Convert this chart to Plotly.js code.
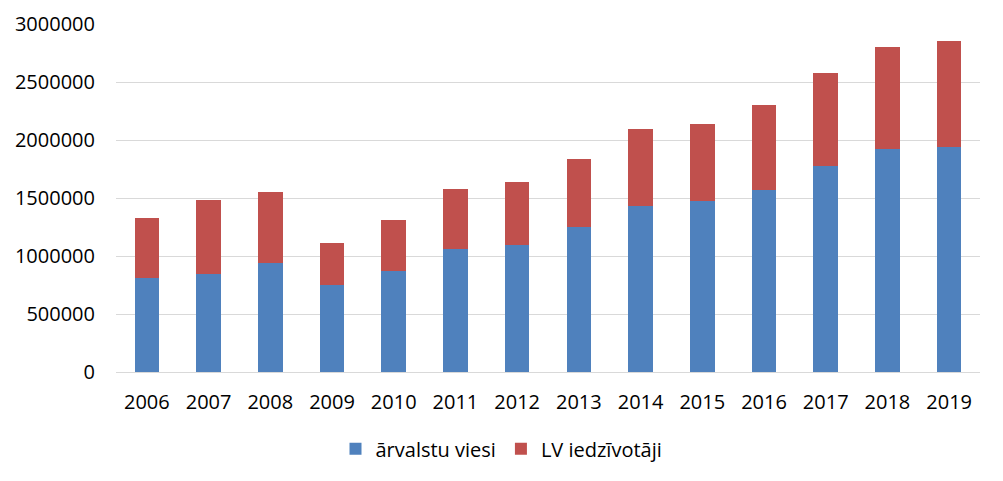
<!DOCTYPE html>
<html>
<head>
<meta charset="utf-8">
<script src="https://cdn.plot.ly/plotly-3.0.1.min.js"></script>
<style>html,body{margin:0;padding:0;background:#fff;}#chart{width:1003px;height:481px;}</style>
</head>
<body>
<div id="chart"></div>
<script>
const years = ["2006","2007","2008","2009","2010","2011","2012","2013","2014","2015","2016","2017","2018","2019"];
const foreignGuests = [813000, 847000, 940000, 750000, 871000, 1060000, 1095000, 1250000, 1434000, 1474000, 1572000, 1779000, 1922000, 1940000];
const lvResidents = [515000, 636000, 612000, 362000, 439000, 518000, 543000, 586000, 661000, 664000, 730000, 799000, 880000, 913000];
const seriesNames = ["ārvalstu viesi", "LV iedzīvotāji"];
const yTicks = [0, 500000, 1000000, 1500000, 2000000, 2500000, 3000000];

const font = {family: "Open Sans, sans-serif", size: 20, color: "#000"};

const traces = [
  {type: "bar", name: seriesNames[0], x: years, y: foreignGuests, marker: {color: "#4F81BD"}, hoverinfo: "y"},
  {type: "bar", name: seriesNames[1], x: years, y: lvResidents, marker: {color: "#C0504D"}, hoverinfo: "y"}
];

const layout = {
  width: 1003, height: 481,
  barmode: "stack",
  bargap: 0.6,
  paper_bgcolor: "#fff", plot_bgcolor: "#fff",
  font: font,
  margin: {l: 116, r: 23, t: 24, b: 109},
  xaxis: {
    type: "category", showgrid: false, zeroline: false, showline: false,
    ticks: "", ticklabelstandoff: 16, tickfont: font
  },
  yaxis: {
    range: [0, 3000000], tickvals: yTicks, ticktext: yTicks.map(String),
    showgrid: true, gridcolor: "#D9D9D9", gridwidth: 1,
    zeroline: true, zerolinecolor: "#D9D9D9", zerolinewidth: 1,
    showline: false, ticks: "", ticklabelstandoff: 20, tickfont: font
  },
  legend: {
    orientation: "h", xref: "container", yref: "container",
    x: 0.5, xanchor: "center", y: 0.067, yanchor: "middle",
    font: font, traceorder: "normal", itemwidth: 30
  },
  showlegend: true
};

Plotly.newPlot("chart", traces, layout, {displayModeBar: false, staticPlot: true});
</script>
</body>
</html>
